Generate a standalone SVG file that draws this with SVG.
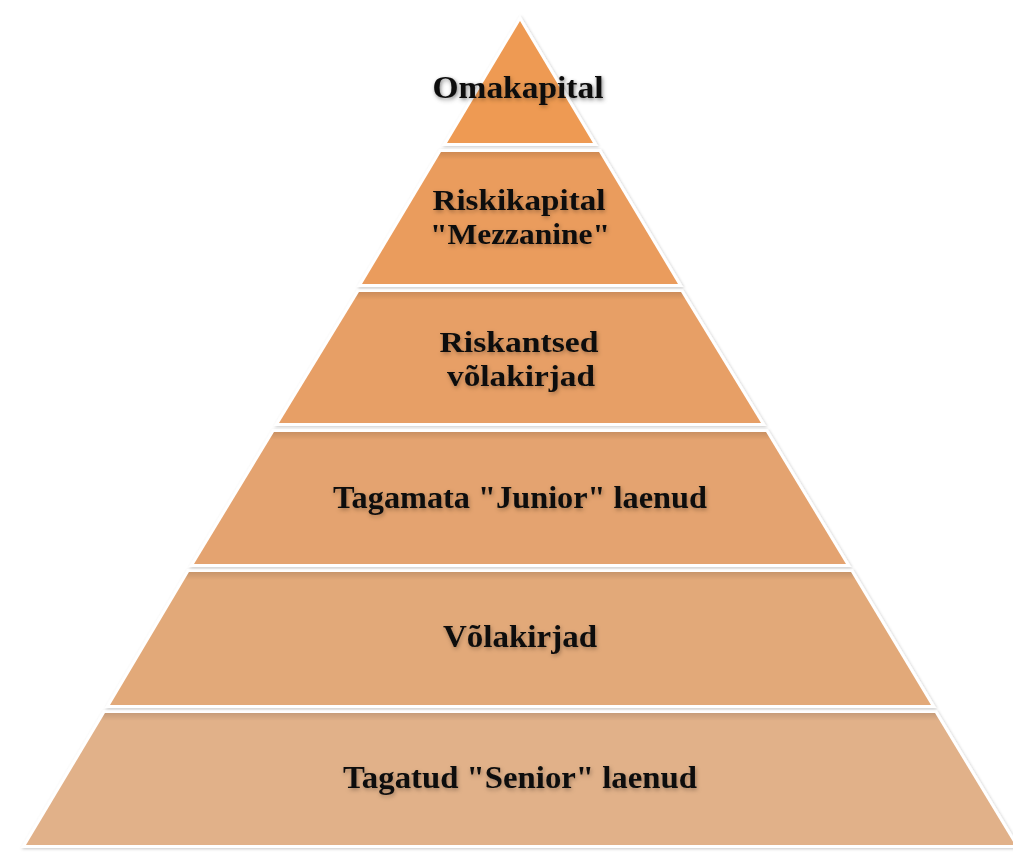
<svg xmlns="http://www.w3.org/2000/svg" width="1013" height="852" viewBox="0 0 1013 852">
  <defs>
    <filter id="shapeShadow" x="-10%" y="-10%" width="120%" height="120%">
      <feDropShadow dx="1" dy="1" stdDeviation="1.5" flood-color="#000" flood-opacity="0.22"/>
    </filter>
    <filter id="textShadow" x="-10%" y="-30%" width="120%" height="160%">
      <feDropShadow dx="1" dy="2" stdDeviation="2" flood-color="#000" flood-opacity="0.3"/>
    </filter>
    <linearGradient id="topShade" x1="0" y1="0" x2="0" y2="1">
      <stop offset="0" stop-color="#000" stop-opacity="0.12"/>
      <stop offset="0.06" stop-color="#000" stop-opacity="0"/>
      <stop offset="1" stop-color="#000" stop-opacity="0"/>
    </linearGradient>
  </defs>
  <style>
    .layer { stroke: #ffffff; stroke-width: 6; stroke-linejoin: miter; paint-order: stroke; }
    .shade { fill: url(#topShade); stroke: none; }
    .lbl { font-family: "Liberation Serif", "Times New Roman", serif; font-weight: bold; font-size: 31px; fill: #111111; text-anchor: middle; filter: url(#textShadow); }
    .lbl2 { font-size: 29px; }
  </style>
  <rect width="1013" height="852" fill="#ffffff"/>

  <g id="layer6" filter="url(#shapeShadow)">
    <polygon class="layer" fill="#E1B189" points="105,713 935,713 1015,845 26,845"/>
    <polygon class="shade" points="105,713 935,713 1015,845 26,845"/>
    <text class="lbl" x="520" y="788" textLength="354" lengthAdjust="spacingAndGlyphs">Tagatud "Senior" laenud</text>
  </g>
  <g id="layer5" filter="url(#shapeShadow)">
    <polygon class="layer" fill="#E2A979" points="189,572 851,572 931,705 110,705"/>
    <polygon class="shade" points="189,572 851,572 931,705 110,705"/>
    <text class="lbl" x="520" y="647" textLength="154" lengthAdjust="spacingAndGlyphs">Võlakirjad</text>
  </g>
  <g id="layer4" filter="url(#shapeShadow)">
    <polygon class="layer" fill="#E4A36F" points="274,432 766,432 846,564 194,564"/>
    <polygon class="shade" points="274,432 766,432 846,564 194,564"/>
    <text class="lbl" x="520" y="508" textLength="374" lengthAdjust="spacingAndGlyphs">Tagamata "Junior" laenud</text>
  </g>
  <g id="layer3" filter="url(#shapeShadow)">
    <polygon class="layer" fill="#E79F66" points="359,292 681,292 761,423 279,423"/>
    <polygon class="shade" points="359,292 681,292 761,423 279,423"/>
    <text class="lbl lbl2" x="519" y="352" textLength="159" lengthAdjust="spacingAndGlyphs">Riskantsed</text>
    <text class="lbl lbl2" x="521" y="386" textLength="148" lengthAdjust="spacingAndGlyphs">võlakirjad</text>
  </g>
  <g id="layer2" filter="url(#shapeShadow)">
    <polygon class="layer" fill="#EA9C5D" points="441,152 599,152 678,284 362,284"/>
    <polygon class="shade" points="441,152 599,152 678,284 362,284"/>
    <text class="lbl lbl2" x="519" y="210" textLength="173" lengthAdjust="spacingAndGlyphs">Riskikapital</text>
    <text class="lbl lbl2" x="520" y="244" textLength="180" lengthAdjust="spacingAndGlyphs">"Mezzanine"</text>
  </g>
  <g id="layer1" filter="url(#shapeShadow)">
    <polygon class="layer" fill="#EE9A52" points="520,21 593,143 447,143"/>
    <text class="lbl" x="518" y="98" textLength="171" lengthAdjust="spacingAndGlyphs">Omakapital</text>
  </g>
  <g id="connectors"/>
</svg>
